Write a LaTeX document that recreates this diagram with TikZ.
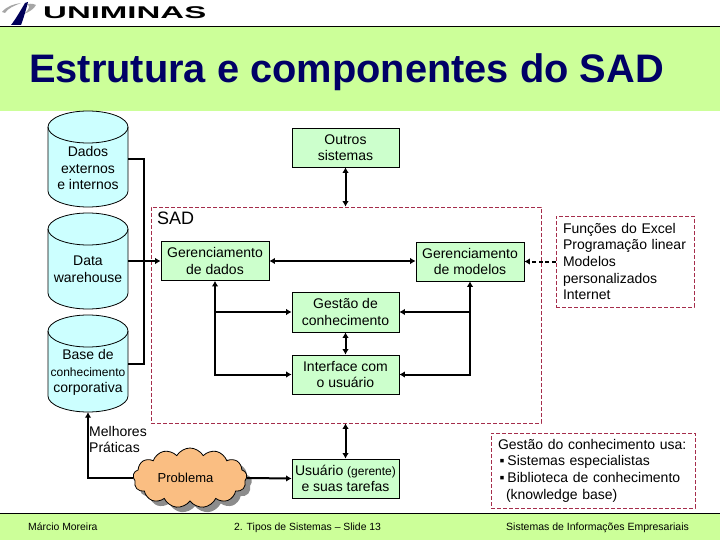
\documentclass[tikz,border=0pt]{standalone}
\usepackage{fontspec}
\setmainfont{Liberation Sans}
\usetikzlibrary{arrows.meta,shapes.symbols,shadows}
\definecolor{bandgreen}{RGB}{204,255,153}
\definecolor{boxgreen}{RGB}{204,255,204}
\definecolor{cylblue}{RGB}{204,255,255}
\definecolor{dashred}{RGB}{165,45,75}
\definecolor{titleblue}{RGB}{0,0,102}
\definecolor{cloudfill}{RGB}{250,190,130}
\newcommand{\fs}[1]{\fontsize{#1}{16.6}\selectfont}
\newcommand{\cylshape}[3]{% x-left, top, bottom
  \draw[black,line width=.8pt,fill=cylblue]
    (#1,#2+16) arc[start angle=180,end angle=360,x radius=40,y radius=16]
    -- (#1+80,#3-16) arc[start angle=0,end angle=180,x radius=40,y radius=16] -- cycle;
  \draw[black,line width=.8pt] (#1,#2+16) arc[start angle=180,end angle=0,x radius=40,y radius=16];
}
\tikzset{
  x=1pt,y=-1pt,
  boxn/.style={draw=black,line width=.8pt,fill=boxgreen,minimum width=107pt,minimum height=39pt,inner sep=0pt,align=center,font=\fs{14}},
  cyltext/.style={inner sep=0pt,minimum width=80pt,align=center,font=\fs{14}},
  dashbox/.style={draw=dashred,line width=.8pt,dash pattern=on 4pt off 2pt,inner sep=0pt},
  note/.style={dashbox,align=left,font=\fs{14}},
  conn/.style={line width=2pt,black},
  tip/.style={-{Latex[length=5.5pt,width=6.5pt]}},
  both/.style={{Latex[length=5.5pt,width=6.5pt]}-{Latex[length=5.5pt,width=6.5pt]}},
  foot/.style={inner sep=0pt,anchor=base west,font=\fs{10.4}},
}
\begin{document}
\begin{tikzpicture}
\useasboundingbox (0,0) rectangle (720,540);
% bands
\fill[bandgreen] (0,27) rectangle (720,111);
\fill[bandgreen] (0,513) rectangle (720,540);
\draw[black,line width=1pt] (0,26.5) -- (720,26.5);
\draw[black,line width=1pt] (0,513) -- (720,513);
% logo
\fill[gray!70] (2,12) .. controls (7,6) and (14,4) .. (21,3) .. controls (14,6) and (8,8) .. (5,13) -- cycle;
\fill[gray!70] (24,14) .. controls (29,12) and (34,9) .. (36,5) .. controls (32,3) and (28,4) .. (26,4) .. controls (30,5) and (31,8) .. cycle;
\fill[black!65!blue] (11,25) .. controls (15,20) and (21,10) .. (25,3) -- (28,2) .. controls (26,10) and (23,20) .. (21,25) -- cycle;
\node[inner sep=0pt,anchor=base west] (logo) at (43,19) {\scalebox{1.94}[1]{\fontsize{17}{18}\selectfont\bfseries UNIMINAS}};
% title
\node[inner sep=0pt,anchor=base west,text=titleblue,font=\fontsize{39.8}{41}\selectfont\bfseries] (title) at (29,83) {Estrutura e componentes do SAD};
% SAD frame
\node[dashbox,minimum width=390pt,minimum height=216pt] (sad) at (346,315) {};
\node[inner sep=0pt,anchor=base west,font=\fs{18}] (sadl) at (157,224.5) {SAD};
% cylinders
\cylshape{48}{111}{207}
\cylshape{48}{213}{309}
\cylshape{48}{315}{412}
\node[cyltext,minimum height=96pt] (c1) at (88,159) {};
\node[cyltext,minimum height=96pt] (c2) at (88,261) {};
\node[cyltext,minimum height=97pt] (c3) at (88,363.5) {};
\node[cyltext] (t1) at (88,168) {Dados\\externos\\e internos};
\node[cyltext] (t2) at (88,269.5) {Data\\warehouse};
\node[cyltext] (t3) at (88,372.5) {Base de\\{\fs{12}conhecimento}\\corporativa};
% boxes
\node[boxn] (out) at (345.5,147.5) {Outros\\sistemas};
\node[boxn,minimum width=108pt] (gd) at (215,261) {Gerenciamento\\de dados};
\node[boxn,minimum width=108pt] (gm) at (470,261.5) {Gerenciamento\\de modelos};
\node[boxn,minimum height=40pt] (ges) at (345.5,312) {Gestão de\\conhecimento};
\node[boxn] (ui) at (345.5,374.5) {Interface com\\o usuário};
\node[boxn] (usr) at (345.5,478.5) {Usuário {\fs{12}(gerente)}\\e suas tarefas};
% notes
\node[note,minimum width=138pt,minimum height=91pt,text width=124pt] (fx) at (625,261.5) {Funções do Excel\\Programação linear\\Modelos\\personalizados\\Internet};
\node[note,minimum width=204pt,minimum height=75pt,text width=190pt] (gu) at (593,470.5) {\raisebox{0pt}{Gestão do conhecimento usa:}\\\hspace*{1.5pt}▪\hspace*{3pt}Sistemas especialistas\\\hspace*{1.5pt}▪\hspace*{3pt}Biblioteca de conhecimento\\\hspace*{8pt}(knowledge base)};
% connectors
\coordinate (busT) at (144,159);
\coordinate (busB) at (144,363.5);
\draw[conn] (c1.east) -- (busT) -- (busB) -- (c3.east);
\draw[conn,tip] (c2.east) -- (gd.west);
\draw[conn,both] (gd.east) -- (gm.west |- gd.east);
\draw[conn,both] (out.south) -- (out.south |- sad.north);
\draw[conn,both] (gd.south) -- (gd.south |- ui.west) -- (ui.west);
\draw[conn,tip] (gd.south |- ges.west) -- (ges.west);
\draw[conn,both] (gm.south) -- (gm.south |- ui.east) -- (ui.east);
\draw[conn,tip] (gm.south |- ges.east) -- (ges.east);
\draw[conn,both] (ges.south) -- (ui.north);
\draw[conn,both] (usr.north) -- (usr.north |- sad.south);
\draw[conn,dash pattern=on 4pt off 2.5pt,tip] (fx.west) -- (gm.east);
% cloud
\node[cloud,cloud puffs=13,cloud puff arc=120,aspect=2,draw=black,line width=.8pt,fill=cloudfill,minimum width=114pt,minimum height=60pt,inner sep=0pt,font=\fs{13},general shadow={fill=black!45,shadow xshift=5pt,shadow yshift=-5pt}] (prob) at (190,478) {Problema\hspace*{9pt}};
\draw[conn,tip] (prob.west) -- (prob.west -| c3.south) -- (c3.south);
\draw[conn,tip] (prob.east) -- (usr.west);
\node[inner sep=0pt,anchor=north west,align=left,font=\fs{14}] (mp) at (89,426) {Melhores\\Práticas};
% footer
\node[foot] (f1) at (28,530.5) {Márcio Moreira};
\node[foot] (f2) at (234,530.5) {2. Tipos de Sistemas – Slide 13};
\node[foot,font=\fs{10.5}] (f3) at (506,530.5) {Sistemas de Informações Empresariais};
\end{tikzpicture}
\end{document}
